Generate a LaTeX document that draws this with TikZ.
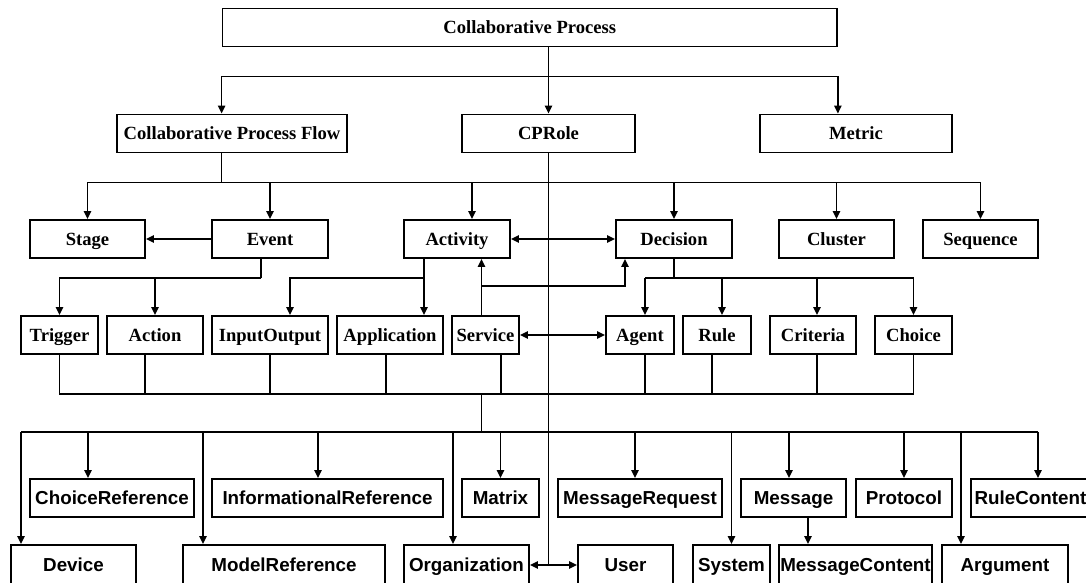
\documentclass[tikz,border=0pt]{standalone}
\usepackage{fontspec}
\newfontfamily\serifbf{Liberation Serif}
\newfontfamily\sansbf{Liberation Sans}
\usepackage{tikz}
\usetikzlibrary{arrows.meta}

\tikzset{
  bw/.style={minimum width=#1*0.5pt},
  topbox/.style={draw, line width=0.9pt, inner sep=0pt, minimum height=19pt,
    text height=7.3pt, text depth=1pt,
    font=\serifbf\bfseries\fontsize{9.3}{11}\selectfont},
  botbox/.style={draw, line width=0.9pt, inner sep=0pt, minimum height=19pt,
    text height=7.7pt, text depth=1pt,
    font=\sansbf\bfseries\fontsize{9.4}{11}\selectfont},
}

\begin{document}
\begin{tikzpicture}[x=0.5pt, y=-0.5pt, line width=0.85pt, >={Triangle[length=4pt,width=3.6pt]}]
\useasboundingbox (0,0) rectangle (1086,583);
\clip (0,0) rectangle (1086,583);

\node[topbox, bw=614.5] (cp) at (529.75,27.5) {Collaborative Process};

\node[topbox, bw=230] (cpf) at (232,133.5) {Collaborative Process Flow};
\node[topbox, bw=173] (cprole) at (548.5,133.5) {CPRole};
\node[topbox, bw=192] (metric) at (856,133.5) {Metric};

\node[topbox, bw=115] (stage) at (87.5,239) {Stage};
\node[topbox, bw=116] (event) at (270,239) {Event};
\node[topbox, bw=106] (activity) at (457,239) {Activity};
\node[topbox, bw=116] (decision) at (674,239) {Decision};
\node[topbox, bw=115] (cluster) at (836.5,239) {Cluster};
\node[topbox, bw=115] (sequence) at (980.5,239) {Sequence};

\node[topbox, bw=77] (trigger) at (59.5,335) {Trigger};
\node[topbox, bw=96] (action) at (155,335) {Action};
\node[topbox, bw=116] (inout) at (270,335) {InputOutput};
\node[topbox, bw=106] (application) at (390,335) {Application};
\node[topbox, bw=67] (service) at (485.5,335) {Service};
\node[topbox, bw=68] (agent) at (640,335) {Agent};
\node[topbox, bw=68] (rule) at (717,335) {Rule};
\node[topbox, bw=86] (criteria) at (813,335) {Criteria};
\node[topbox, bw=77] (choice) at (913.5,335) {Choice};

\node[botbox, bw=164] (choiceref) at (112,498) {ChoiceReference};
\node[botbox, bw=231] (inforef) at (327.5,498) {InformationalReference};
\node[botbox, bw=77] (matrix) at (500.5,498) {Matrix};
\node[botbox, bw=164] (msgreq) at (640,498) {MessageRequest};
\node[botbox, bw=105] (message) at (793.5,498) {Message};
\node[botbox, bw=96] (protocol) at (904,498) {Protocol};
\node[botbox, bw=119] (rulecontent) at (1030.5,498) {RuleContent};

\node[botbox, bw=125, minimum height=20pt] (device) at (73.5,565) {Device};
\node[botbox, bw=202, minimum height=20pt] (modelref) at (284,565) {ModelReference};
\node[botbox, bw=125, minimum height=20pt] (organization) at (466.5,565) {Organization};
\node[botbox, bw=95, minimum height=20pt] (user) at (625.5,565) {User};
\node[botbox, bw=77, minimum height=20pt] (system) at (731.5,565) {System};
\node[botbox, bw=153, minimum height=20pt] (msgcontent) at (855.5,565) {MessageContent};
\node[botbox, bw=126, minimum height=20pt] (argument) at (1005,565) {Argument};

\coordinate (t1l) at ([yshift=-14.5pt]cp.south west);
\coordinate (t1r) at ([yshift=-14.5pt]cp.south east);
\draw (t1l) -- (t1r);
\draw[->] (t1l) -- (t1l |- cpf.north);
\draw[->] (t1r) -- (t1r |- metric.north);
\draw[->] (cp.south -| cprole.north) -- (cprole.north);

\coordinate (t2) at ([yshift=-14.5pt]cpf.south -| t1l);
\coordinate (act) at ([xshift=7.5pt]activity.north);
\draw (t1l |- cpf.south) -- (t2);
\draw (t2 -| stage.north) -- (t2 -| sequence.north);
\foreach \n in {stage,event,act,decision,cluster,sequence}
  \draw[->] (t2 -| \n) -- (\n |- stage.north);

\draw[->] (event.west) -- (stage.east);
\draw[<->] (activity.east) -- (decision.west);

\coordinate (ev) at ([xshift=-4.5pt,yshift=-9.5pt]event.south);
\draw (ev |- event.south) -- (ev);
\draw[->] (ev) -| (trigger.north);
\draw[->] (ev -| action.north) -- (action.north);

\coordinate (ac) at ([xshift=-16.5pt,yshift=-9.5pt]activity.south);
\draw[->] (ac |- activity.south) -- (ac |- application.north);
\draw[->] (ac) -| ([xshift=10pt]inout.north);

\coordinate (dc) at ([yshift=-9.5pt]decision.south);
\draw (decision.south) -- (dc);
\draw (dc -| agent.north) ++(2.5pt,0) -- (dc -| choice.north);
\foreach \n/\s in {agent/2.5,rule/2.5,criteria/2,choice/0}
  \draw[->] ([xshift=\s pt]\n.north |- dc) -- ([xshift=\s pt]\n.north);

\coordinate (sv) at ([xshift=-2pt]service.north);
\coordinate (sv2) at ([yshift=14.5pt]sv);
\draw[->] (sv) -- (sv |- activity.south);
\draw[->] (sv2) -| ([xshift=-24.5pt]decision.south);
\draw[<->] (service.east) -- (agent.west);

\coordinate (u1) at ([yshift=-19.5pt]trigger.south);
\draw (trigger.south) -- (u1) -- (u1 -| choice.south) -- (choice.south);
\foreach \n/\s in {action/-5,inout/0,application/-2,service/7.75,agent/2.5,rule/-2.5,criteria/2}
  \draw ([xshift=\s pt]\n.south) -- ([xshift=\s pt]\n.south |- u1);

\coordinate (u2) at ([yshift=-19pt]sv |- u1);
\draw (sv |- u1) -- (u2);
\draw ([xshift=-26.25pt]device.north |- u2) -- ([xshift=3.75pt]rulecontent.north |- u2);
\foreach \n/\s in {device/-26.25,choiceref/-12,modelref/-40.5,inforef/-4.75,organization/-6.75,matrix/0,msgreq/-2.5,system/0,message/-2.25,protocol/0,argument/-22,rulecontent/3.75}
  \draw[->] ([xshift=\s pt]\n.north |- u2) -- ([xshift=\s pt]\n.north);

\draw[->] ([xshift=7.25pt]message.south) -- ([xshift=7.25pt]message.south |- msgcontent.north);

\coordinate (cr) at (cprole.south |- organization.east);
\draw (cprole.south) -- (cr);
\draw[->] (cr) -- (organization.east);
\draw[->] (cr) -- (user.west);
\end{tikzpicture}
\end{document}
